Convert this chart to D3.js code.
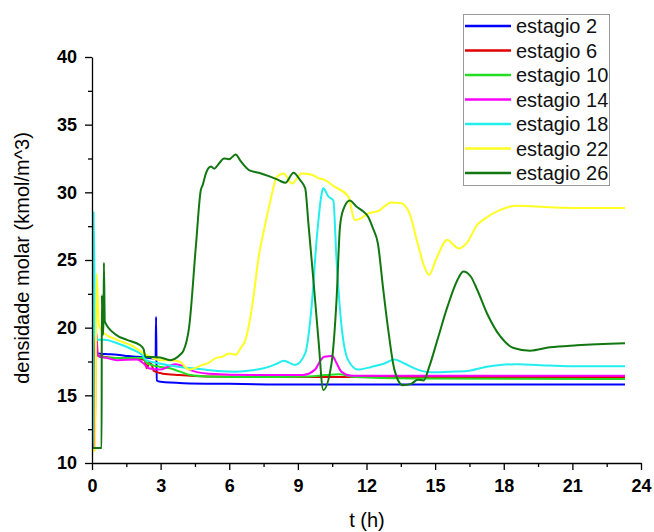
<!DOCTYPE html>
<html><head><meta charset="utf-8">
<script src="https://cdn.jsdelivr.net/npm/d3@7"></script>
<style>body{margin:0;background:#fff}svg{display:block}text{font-family:"Liberation Sans",Arial,sans-serif}</style>
</head><body><svg id="c" width="654" height="532"></svg>
<script>
// ---- data (t in hours, molar density in kmol/m^3) ----
const seriesNames = ["estagio 2","estagio 6","estagio 10","estagio 14","estagio 18","estagio 22","estagio 26"];
const seriesColors = ["#0000ff","#e00000","#22dd22","#ff00ff","#22eeee","#ffff22","#117711"];
const xTicks = [0,3,6,9,12,15,18,21,24];
const yTicks = [10,15,20,25,30,35,40];

const estagio2 = [[0,11.1],[0.1,11.1],[0.12,18.3],[0.25,18.1],[0.6,18.05],[1.1,18.0],[1.6,17.9],[2.0,17.85],[2.5,17.75],[2.78,17.7],[2.8,20.8],[2.83,16.1],[3.0,16.0],[4.0,15.9],[6,15.85],[9,15.8],[12,15.8],[18,15.8],[23.3,15.8]];
const estagio6 = [[0,11.1],[0.1,11.1],[0.14,19.8],[0.22,18.0],[0.5,17.85],[1.1,17.75],[2.0,17.7],[2.3,17.6],[2.4,17.0],[2.5,17.4],[2.6,17.3],[2.7,16.8],[3.1,16.6],[3.8,16.5],[5,16.4],[10,16.35],[15,16.35],[23.3,16.35]];
const estagio10 = [[0,11.1],[0.12,11.1],[0.16,18.8],[0.26,17.9],[0.6,17.8],[1.5,17.75],[2.2,17.75],[2.4,17.4],[2.6,17.25],[3.0,17.1],[3.4,17.0],[3.85,16.75],[4.3,16.5],[5,16.4],[7,16.35],[9.5,16.4],[10.2,16.5],[10.8,16.55],[11.5,16.35],[14,16.25],[23.3,16.2]];
const estagio14 = [[0,11.1],[0.12,11.1],[0.17,19.8],[0.27,17.9],[0.66,17.75],[1.1,17.6],[1.97,17.65],[2.26,17.35],[2.47,17.0],[2.98,16.9],[3.3,17.1],[3.6,17.3],[3.9,17.2],[4.25,16.9],[5.1,16.6],[7,16.5],[9.2,16.5],[9.75,16.9],[10.0,17.6],[10.15,17.85],[10.5,17.9],[10.7,17.35],[10.9,16.75],[11.35,16.45],[14,16.45],[23.3,16.45]];
const estagio18 = [[0,11.1],[0.06,11.1],[0.07,28.6],[0.14,19.5],[0.27,19.1],[0.52,19.1],[1.1,18.85],[1.82,18.35],[2.18,18.0],[2.37,17.6],[2.95,17.35],[3.82,17.1],[4.69,16.95],[5.5,16.8],[6.28,16.75],[7.0,16.85],[7.73,17.1],[8.1,17.35],[8.38,17.55],[8.88,17.25],[9.32,18.1],[9.6,21.55],[9.82,26.5],[10.04,29.9],[10.11,30.3],[10.33,29.7],[10.55,29.4],[10.69,25.0],[10.91,20.1],[11.2,17.6],[11.63,16.9],[12.21,17.1],[12.79,17.35],[13.22,17.65],[13.66,17.35],[14.24,16.9],[14.81,16.7],[15.68,16.75],[16.4,16.8],[17.2,17.1],[17.85,17.25],[18.58,17.3],[20,17.2],[21.2,17.15],[23.3,17.15]];
const estagio22 = [[0,10.9],[0.14,10.9],[0.2,24.0],[0.3,20.2],[0.52,19.6],[1.1,19.1],[1.82,18.6],[2.26,18.1],[2.6,17.8],[2.98,17.6],[3.39,17.6],[3.82,17.5],[4.25,16.9],[4.83,17.25],[5.1,17.4],[5.41,17.75],[5.7,17.85],[5.99,18.1],[6.28,18.0],[6.5,18.5],[6.71,19.1],[7.0,21.55],[7.29,25.25],[7.58,27.7],[7.8,29.4],[8.09,31.15],[8.38,31.4],[8.74,30.65],[9.17,31.4],[9.61,31.3],[9.9,31.05],[10.18,30.9],[10.62,30.4],[11.2,29.7],[11.49,27.95],[11.78,28.1],[12.07,28.45],[12.5,28.6],[13.08,29.25],[13.51,29.2],[13.88,28.45],[14.24,26.2],[14.53,24.5],[14.74,23.9],[15.03,25.0],[15.54,26.5],[15.75,26.2],[16.05,25.85],[16.4,26.3],[16.84,27.6],[17.13,28.0],[17.85,28.7],[18.58,29.0],[20.02,28.9],[21.2,28.85],[23.3,28.85]];
const estagio26 = [[0,11.1],[0.42,11.1],[0.43,22.4],[0.47,19.5],[0.5,19.5],[0.52,24.8],[0.56,20.45],[1.03,19.5],[1.53,19.1],[2.11,18.7],[2.26,18.4],[2.33,17.85],[2.98,17.8],[3.42,17.6],[3.85,18.0],[4.0,18.3],[4.25,20.1],[4.54,26.0],[4.76,30.2],[4.83,30.5],[4.98,31.4],[5.2,31.9],[5.34,31.75],[5.56,32.15],[5.77,32.5],[5.99,32.45],[6.28,32.8],[6.5,32.3],[6.86,31.65],[7.29,31.45],[7.73,31.2],[8.16,30.9],[8.45,30.7],[8.81,31.45],[9.1,30.9],[9.32,30.3],[9.46,27.7],[9.68,23.5],[9.9,19.1],[10.11,15.4],[10.47,17.35],[10.69,22.05],[10.84,27.45],[10.98,28.7],[11.27,29.4],[11.56,28.95],[11.85,28.6],[12.07,28.2],[12.28,27.35],[12.5,26.2],[12.72,23.0],[12.93,20.1],[13.22,16.9],[13.58,15.75],[13.95,15.85],[14.24,16.15],[14.5,16.1],[14.74,17.1],[15.1,19.1],[15.54,21.55],[15.97,23.5],[16.23,24.15],[16.55,23.8],[16.84,22.8],[17.27,21.05],[17.85,19.35],[18.43,18.5],[19.15,18.3],[20.02,18.55],[21.2,18.7],[23.3,18.85]];

const seriesData = [estagio2, estagio6, estagio10, estagio14, estagio18, estagio22, estagio26];

// ---- drawing ----
const svg = d3.select("#c");
const x = d3.scaleLinear().domain([0,24]).range([92,641]);
const y = d3.scaleLinear().domain([10,40]).range([463,57]);

const line = d3.line().curve(d3.curveMonotoneX).x(d => x(d[0])).y(d => y(d[1]));
seriesData.forEach((d,i) => {
  svg.append("path").attr("d", line(d)).attr("fill","none")
    .attr("stroke", seriesColors[i]).attr("stroke-width", 2).attr("stroke-linejoin","round");
});

const xMinor = d3.range(1.5, 24, 3);
const yMinor = d3.range(12.5, 40, 5);

const gx = svg.append("g").attr("transform","translate(0,463)");
gx.call(d3.axisBottom(x).tickValues(xTicks).tickSize(7).tickSizeOuter(0).tickPadding(9));
const gxm = svg.append("g").attr("transform","translate(0,463)");
gxm.call(d3.axisBottom(x).tickValues(xMinor).tickSize(4).tickFormat(""));
gxm.select(".domain").remove();

const gy = svg.append("g").attr("transform","translate(92,0)");
gy.call(d3.axisLeft(y).tickValues(yTicks).tickSize(7).tickSizeOuter(0).tickPadding(8));
const gym = svg.append("g").attr("transform","translate(92,0)");
gym.call(d3.axisLeft(y).tickValues(yMinor).tickSize(4).tickFormat(""));
gym.select(".domain").remove();

svg.selectAll(".domain, .tick line").attr("stroke","#000").attr("stroke-width",1.3);
svg.selectAll(".tick text").attr("font-family","'Liberation Sans',Arial,sans-serif")
  .attr("font-size",18).attr("font-weight","bold").attr("fill","#000");

svg.append("text").attr("x", 367).attr("y", 527).attr("text-anchor","middle")
  .attr("font-size",20).text("t (h)");
svg.append("text").attr("transform","translate(29,258) rotate(-90)").attr("text-anchor","middle")
  .attr("font-size",20).text("densidade molar (kmol/m^3)");

// legend
const lg = svg.append("g");
lg.append("rect").attr("x",463.5).attr("y",14.5).attr("width",146).attr("height",171)
  .attr("fill","#fff").attr("stroke","#999").attr("stroke-width",1);
seriesNames.forEach((n,i) => {
  const yy = 26 + i*24.5;
  lg.append("line").attr("x1",465).attr("x2",511).attr("y1",yy).attr("y2",yy)
    .attr("stroke",seriesColors[i]).attr("stroke-width",2.5);
  lg.append("text").attr("x",516).attr("y",yy+7).attr("font-size",20).attr("fill","#111").text(n);
});
</script></body></html>
